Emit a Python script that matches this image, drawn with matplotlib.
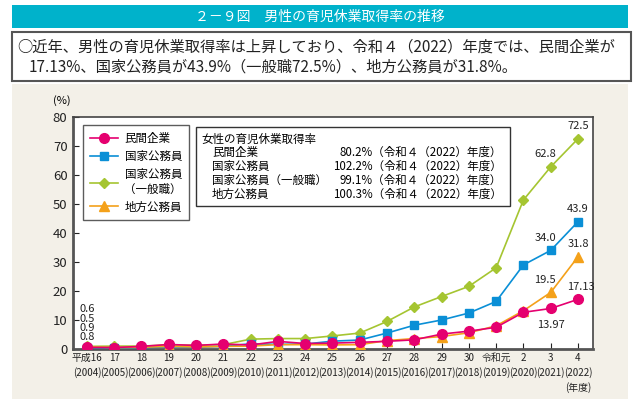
import matplotlib
matplotlib.use('Agg')
import matplotlib.pyplot as plt
from matplotlib.patches import Rectangle
import numpy as np

plt.rcParams['font.family'] = ['Noto Sans CJK JP', 'DejaVu Sans']

# 年度ラベル
wareki = ['平成16', '17', '18', '19', '20', '21', '22', '23', '24', '25', '26',
          '27', '28', '29', '30', '令和元', '2', '3', '4']
years = list(range(2004, 2023))

# 男性の育児休業取得率 (%)
minkan = [0.56, 0.50, 0.9, 1.56, 1.23, 1.72, 1.38, 2.63, 1.89, 2.03, 2.30,
          2.65, 3.16, 5.14, 6.16, 7.48, 12.65, 13.97, 17.13]
kokka = [0.5, 0.4, 0.5, 0.7, 0.6, 0.9, 1.8, 1.6, 1.7, 2.7, 3.1,
         5.5, 8.2, 10.0, 12.4, 16.4, 29.0, 34.0, 43.9]
kokka_ippan = [0.9, 1.0, 1.0, 1.4, 1.3, 1.5, 3.4, 3.6, 3.6, 4.5, 5.5,
               9.5, 14.5, 18.1, 21.6, 28.0, 51.4, 62.8, 72.5]
chiho = [0.8, 0.5, 0.6, 0.9, 0.7, 0.9, 1.0, 1.5, 1.5, 1.4, 1.5,
         2.9, 3.6, 4.3, 5.6, 8.0, 13.2, 19.5, 31.8]

# 女性の育児休業取得率
women_names = ['民間企業', '国家公務員', '国家公務員（一般職）', '地方公務員']
women_vals = ['80.2%', '102.2%', '99.1%', '100.3%']

PINK = '#E5006F'
BLUE = '#0A8FD6'
GREEN = '#A5C531'
ORANGE = '#F4A11A'

W, H = 637, 399
fig = plt.figure(figsize=(W / 100, H / 100), dpi=100)


def fx(x):
    return x / W


def fy(y):
    return 1 - y / H


# 背景・見出し
fig.patches.append(Rectangle((fx(12), 0), 616 / W, fy(84), transform=fig.transFigure,
                             facecolor='#F3F0E8', edgecolor='none', zorder=-2))
fig.patches.append(Rectangle((fx(12), fy(28)), 616 / W, 23 / H, transform=fig.transFigure,
                             facecolor='#00B2CB', edgecolor='none', zorder=-2))
fig.patches.append(Rectangle((fx(12), fy(81)), 619 / W, 49 / H, transform=fig.transFigure,
                             facecolor='white', edgecolor='#555555', lw=1.5, zorder=-2))
fig.text(fx(320), fy(17), '２－９図　男性の育児休業取得率の推移', color='white',
         fontsize=10, ha='center', va='center')
fig.text(fx(17), fy(47), '○近年、男性の育児休業取得率は上昇しており、令和４（2022）年度では、民間企業が',
         fontsize=11, ha='left', va='center', color='#222222')
fig.text(fx(29), fy(67), '17.13%、国家公務員が43.9%（一般職72.5%）、地方公務員が31.8%。',
         fontsize=11, ha='left', va='center', color='#222222')

ax = fig.add_axes([fx(73), 50 / H, 520 / W, 232 / H])
x = np.arange(len(years))

l_green, = ax.plot(x, kokka_ippan, '-D', color=GREEN, ms=5.5, lw=1.2, zorder=3)
l_blue, = ax.plot(x, kokka, '-s', color=BLUE, ms=6, lw=1.2, zorder=4)
l_orange, = ax.plot(x, chiho, '-^', color=ORANGE, ms=6.5, lw=1.2, zorder=5)
l_pink, = ax.plot(x, minkan, '-o', color=PINK, ms=7, lw=1.2, zorder=6)

ax.set_xlim(-0.51, len(x) - 1 + 0.55)
ax.set_ylim(0, 80)
ax.set_yticks(range(0, 81, 10))
ax.tick_params(axis='y', direction='in', length=4, labelsize=9.5, pad=4, colors='#222222')
ax.set_xticks(x)
xl = ['%s\n(%d)' % (w, y) for w, y in zip(wareki, years)]
xl[-1] = xl[-1] + '\n(年度)'
ax.set_xticklabels(xl, fontsize=7.1, linespacing=1.45)
ax.tick_params(axis='x', direction='in', length=4, pad=3, colors='#222222')
for s in ['left', 'bottom']:
    ax.spines[s].set_linewidth(2)
    ax.spines[s].set_color('#555555')
for s in ['top', 'right']:
    ax.spines[s].set_linewidth(1.2)
    ax.spines[s].set_color('#444444')
fig.text(fx(62), fy(101), '(%)', fontsize=8, ha='center', va='center')

# 数値ラベル
lab = dict(fontsize=8, color='#222222')
n = len(x) - 1
ax.annotate('72.5', (n, kokka_ippan[-1]), xytext=(0, 7), textcoords='offset points', ha='center', **lab)
ax.annotate('62.8', (n - 1, kokka_ippan[-2]), xytext=(-4, 7), textcoords='offset points', ha='center', **lab)
ax.annotate('43.9', (n, kokka[-1]), xytext=(0, 7), textcoords='offset points', ha='center', **lab)
ax.annotate('34.0', (n - 1, kokka[-2]), xytext=(-4, 7), textcoords='offset points', ha='center', **lab)
ax.annotate('31.8', (n, chiho[-1]), xytext=(0, 7), textcoords='offset points', ha='center', **lab)
ax.annotate('19.5', (n - 1, chiho[-2]), xytext=(-4, 7), textcoords='offset points', ha='center', **lab)
ax.annotate('17.13', (n, minkan[-1]), xytext=(2, 7), textcoords='offset points', ha='center', **lab)
ax.annotate('13.97', (n - 1, minkan[-2]), xytext=(0, -14), textcoords='offset points', ha='center', **lab)
for i, v in enumerate([minkan[0], kokka[0], kokka_ippan[0], chiho[0]]):
    fig.text(fx(87), fy(309 + i * 9.5), '%.1f' % v, fontsize=8, ha='center', va='center',
             color='#222222')

# 凡例
leg = ax.legend([l_pink, l_blue, l_green, l_orange],
                ['民間企業', '国家公務員', '国家公務員\n（一般職）', '地方公務員'],
                loc='upper left', bbox_to_anchor=(10 / 520, 1 - 8 / 232), borderaxespad=0,
                fontsize=8.3, frameon=True, fancybox=False, handlelength=2.4,
                borderpad=0.6, labelspacing=0.42, handletextpad=0.6)
leg.get_frame().set_edgecolor('#333333')
leg.get_frame().set_linewidth(1.0)

# 女性の育児休業取得率ボックス
fig.patches.append(Rectangle((fx(196), fy(206)), 314 / W, 79 / H, transform=fig.transFigure,
                             facecolor='white', edgecolor='#333333', lw=1.0, zorder=10))
fig.text(fx(201), fy(139), '女性の育児休業取得率', fontsize=8.3, ha='left', va='center', zorder=11)
for i, (nm, v) in enumerate(zip(women_names, women_vals)):
    yy = fy(152 + i * 14)
    fig.text(fx(212), yy, nm, fontsize=8.3, ha='left', va='center', zorder=11)
    fig.text(fx(502), yy, v + '（令和４（2022）年度）', fontsize=8.3, ha='right', va='center', zorder=11)

fig.savefig('out.png', dpi=100)
